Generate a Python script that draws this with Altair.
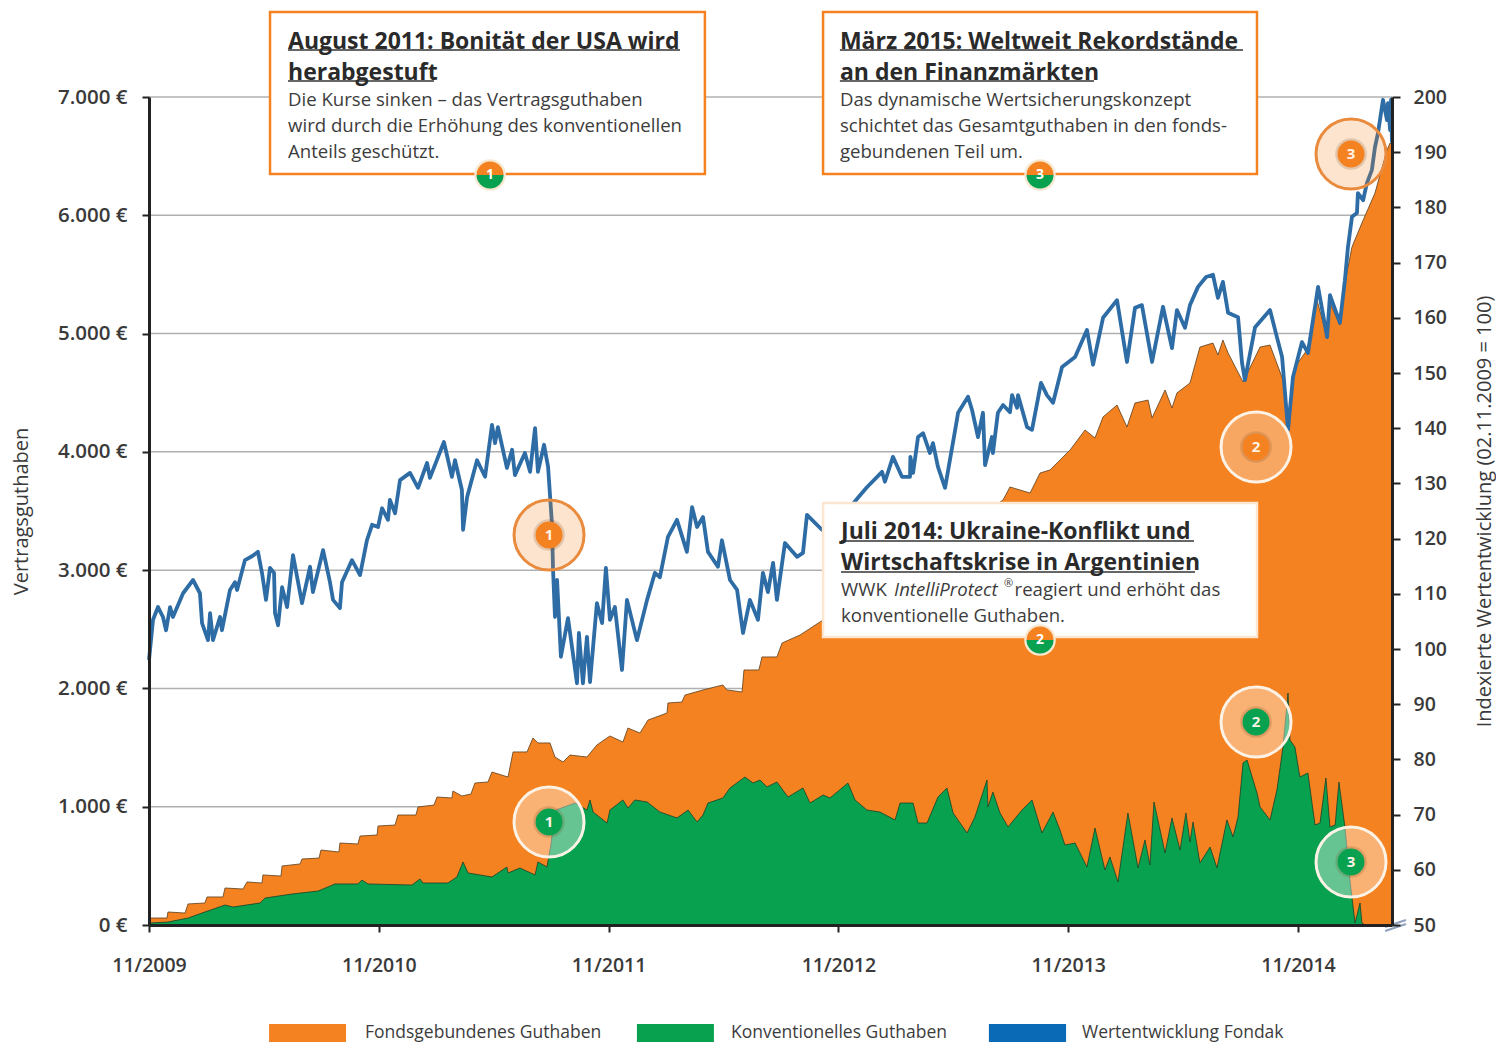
import altair as alt
import pandas as pd

FONT = "Open Sans"
ORANGE = "#f58220"
GREEN = "#07a14f"
BLUE = "#2e6ca5"
TXT = "#3a3a3a"

# Months since 11/2009 and fund index (right axis)
fund_m = [0.00,0.21,0.47,0.73,0.89,1.10,1.25,1.78,2.30,2.66,2.77,3.08,3.19,3.34,3.71,3.81,4.23,4.49,4.60,5.01,5.38,5.69,5.90,6.11,6.32,6.53,6.58,6.74,6.95,7.21,7.52,7.99,8.41,8.56,9.09,9.45,9.61,9.97,10.08,10.60,11.02,11.38,11.65,11.96,12.17,12.48,12.58,12.85,13.11,13.63,14.05,14.52,14.67,15.40,15.82,15.98,16.34,16.40,16.61,17.13,17.55,17.91,18.07,18.22,18.69,18.96,19.11,19.63,19.90,20.16,20.31,20.63,20.84,21.04,21.10,21.20,21.31,21.51,21.88,22.35,22.45,22.66,22.87,23.03,23.39,23.66,23.86,24.07,24.33,24.70,24.96,25.48,26.01,26.42,26.68,27.10,27.57,28.09,28.36,28.62,28.93,29.19,29.71,29.92,30.34,30.71,31.02,31.38,31.80,32.06,32.32,32.59,32.79,33.21,33.84,34.15,34.36,35.14,36.08,37.02,37.49,38.28,38.43,38.85,39.32,39.74,39.76,39.90,40.16,40.42,40.78,40.94,41.20,41.57,42.19,42.25,42.77,42.98,43.29,43.55,43.66,44.02,44.07,44.33,44.60,44.96,45.07,45.33,45.38,45.85,46.11,46.58,46.89,47.21,47.68,48.36,48.98,49.30,49.82,50.55,51.07,51.49,51.85,52.38,52.95,53.42,53.68,54.10,54.36,54.78,55.20,55.56,55.82,56.08,56.35,56.87,57.08,57.23,57.76,58.54,58.90,59.17,59.48,59.74,60.21,60.52,61.05,61.52,61.67,62.19,62.45,62.61,62.82,63.08,63.13,63.40,63.60,63.86,64.02,64.18,64.44,64.65,64.70,64.81,64.86,64.91]
fund_v = [98.0,105.3,107.6,105.8,103.4,107.6,105.8,110.1,112.5,110.1,104.7,101.6,106.5,101.6,105.8,103.4,110.7,112.1,110.7,116.1,116.8,117.6,113.8,108.9,114.7,113.8,106.5,104.3,111.2,107.6,117.0,108.3,114.9,110.3,117.9,112.1,108.9,107.4,112.1,116.1,113.4,119.7,122.5,122.1,125.5,123.4,127.0,124.6,130.6,131.9,129.2,133.7,131.0,137.5,131.2,134.2,128.8,121.6,127.5,134.2,131.2,140.6,137.3,140.2,132.8,136.1,131.5,135.5,132.1,140.0,132.1,137.0,133.0,122.8,114.3,105.8,112.5,98.6,105.6,93.8,102.9,93.8,102.2,94.0,108.3,104.7,114.7,105.3,107.6,96.2,108.9,101.6,108.9,113.8,113.0,120.3,123.4,117.6,125.7,122.1,123.9,117.6,114.9,119.7,112.5,110.7,102.9,108.9,105.3,113.8,110.3,115.6,108.9,119.2,116.7,117.4,124.3,121.6,123.4,127.4,129.3,132.1,130.3,134.8,131.2,131.2,134.8,131.9,138.4,139.1,135.5,137.3,133.0,129.2,141.5,142.8,145.7,143.3,138.4,142.8,133.3,138.4,135.5,142.8,144.2,142.9,146.0,143.7,146.0,140.2,139.7,148.2,146.0,144.6,151.1,152.9,157.8,151.5,160.0,163.2,152.0,161.8,162.3,152.0,162.0,154.5,161.4,158.2,162.3,165.6,167.4,167.8,163.6,166.5,160.9,160.1,151.8,148.7,158.3,161.4,156.5,152.9,139.7,149.3,155.6,153.6,165.6,156.5,164.1,159.1,166.8,172.8,178.3,179.0,182.6,181.3,184.4,186.8,190.9,193.5,199.5,195.8,198.9,194.0,199.5,191.7]

# Fund-linked balance (top of orange area, left axis, EUR)
total_m = [0.05,0.94,0.99,1.88,2.04,2.92,3.03,3.86,3.97,4.91,5.12,5.90,5.95,6.89,6.95,7.89,7.99,8.88,8.98,9.92,9.97,10.91,11.02,11.91,11.96,12.85,13.00,13.94,14.05,14.88,15.04,15.82,15.87,16.34,16.81,17.02,17.70,17.91,18.75,19.01,19.74,20.05,20.31,20.94,21.20,21.62,21.98,22.87,23.39,24.07,24.75,25.01,25.64,26.06,27.05,27.10,27.83,27.99,28.93,29.97,30.18,30.97,31.07,31.85,32.01,32.79,33.06,34.00,35.04,39.74,44.60,44.96,46.01,46.53,47.05,48.10,48.88,49.40,49.82,50.55,51.07,51.49,52.17,52.38,53.06,53.42,53.68,54.36,54.88,55.56,55.82,56.08,56.35,57.13,58.02,58.54,59.22,59.48,59.84,60.47,60.99,61.52,61.67,62.19,62.45,62.82,63.34,64.02,64.65,64.81,64.91]
total_v = [59,59,110,101,178,186,237,237,313,304,364,355,423,414,499,516,558,566,634,617,693,685,752,761,837,845,930,930,998,1014,1082,1074,1133,1091,1107,1200,1209,1293,1251,1463,1463,1581,1539,1539,1420,1378,1437,1420,1522,1598,1547,1665,1623,1733,1792,1877,1885,1944,1987,2029,1987,1970,2156,2156,2266,2266,2384,2452,2562,3043,3593,3703,3652,3821,3847,4016,4185,4117,4295,4396,4210,4413,4438,4286,4523,4371,4498,4582,4886,4920,4819,4946,4836,4591,4886,4903,4607,4185,4717,4861,5284,4971,5258,5072,5427,5732,5935,6188,6552,6611,6594]

# Conventional balance (top of green area, left axis, EUR)
conv_m = [0.05,0.99,2.04,2.92,3.97,4.39,5.80,6.06,7.47,8.83,9.71,10.91,11.12,11.44,13.73,14.15,14.31,15.61,16.08,16.40,16.66,17.91,18.69,18.75,19.37,20.16,20.31,20.78,20.99,21.10,21.25,22.25,22.87,23.03,23.19,23.92,24.07,24.75,25.01,25.38,26.01,26.68,27.57,28.15,28.62,28.93,29.19,29.97,30.34,31.12,31.54,31.91,32.27,32.79,33.37,34.15,34.52,35.20,35.56,36.50,36.87,37.49,38.17,38.96,39.22,39.90,40.16,40.63,41.20,41.67,41.99,42.72,43.13,43.76,43.81,44.07,44.44,44.86,45.59,46.11,46.63,47.21,47.57,47.83,48.36,48.98,49.40,49.92,50.18,50.60,51.12,51.65,52.01,52.27,52.48,53.06,53.42,53.84,54.15,54.36,54.52,54.88,55.41,55.77,56.29,56.61,56.87,57.13,57.34,57.86,58.02,58.54,58.90,59.22,59.48,59.58,59.84,60.10,60.52,60.89,61.15,61.46,61.67,61.94,62.14,62.45,62.71,62.98,63.24,63.34,63.50,64.91]
conv_v = [17,25,59,110,169,152,186,228,262,287,347,347,380,347,338,389,355,355,406,533,440,406,490,440,482,423,533,490,676,845,972,1031,972,1057,955,862,972,1057,989,1057,1040,955,905,972,871,930,1031,1074,1158,1251,1200,1226,1167,1209,1082,1158,1031,1099,1074,1200,1057,972,955,888,1031,1031,862,862,1082,1158,947,778,913,1226,998,1124,947,829,972,1057,778,955,803,676,693,490,820,465,575,364,947,482,719,507,1040,609,905,634,947,702,871,524,659,482,888,744,913,1370,1395,1116,998,888,1141,1505,1961,1564,1505,1251,1285,845,862,1243,829,845,1209,829,380,17,186,17,0,0]

grid_vals = [1000, 2000, 3000, 4000, 5000, 6000, 7000]

# Event rings: month, EUR, number
ring_m = [20.89, 57.81, 62.77]
ring_top = [3297, 4041, 6518]
ring_bot = [871, 1716, 533]
ring_no = ["1", "2", "3"]

# Callout boxes (month / EUR extents)
box_x = [6.32, 35.20, 35.20]
box_x2 = [29.03, 57.86, 57.86]
box_y = [7718, 7718, 3568]
box_y2 = [6349, 6349, 2435]

title_txt = ["August 2011: Bonität der USA wird", "herabgestuft", "März 2015: Weltweit Rekordstände", "an den Finanzmärkten", "Juli 2014: Ukraine-Konflikt und", "Wirtschaftskrise in Argentinien"]
title_m = [7.26, 7.26, 36.08, 36.08, 36.14, 36.14]
title_e = [7468, 7206, 7468, 7206, 3325, 3063]
ul_m2 = [27.73, 14.88, 57.13, 49.35, 54.57, 54.62]
ul_e = [7397, 7135, 7397, 7135, 3246, 2984]

body_txt = ["Die Kurse sinken – das Vertragsguthaben", "wird durch die Erhöhung des konventionellen", "Anteils geschützt.", "Das dynamische Wertsicherungskonzept", "schichtet das Gesamtguthaben in den fonds-", "gebundenen Teil um.", "WWK", "reagiert und erhöht das", "konventionelle Guthaben."]
body_m = [7.26, 7.26, 7.26, 36.08, 36.08, 36.08, 36.14, 45.20, 36.14]
body_e = [6975, 6755, 6535, 6975, 6755, 6535, 2833, 2833, 2613]
ital_txt = ["IntelliProtect"]
ital_m = [38.91]
ital_e = [2833]
reg_txt = ["®"]
reg_m = [44.65]
reg_e = [2885]

# Split badges on the boxes
badge_m = [17.81, 46.53, 46.53]
badge_e = [6341, 6341, 2409]
badge_no = ["1", "3", "2"]

# Legend
leg_txt = ["Fondsgebundenes Guthaben", "Konventionelles Guthaben", "Wertentwicklung Fondak"]
leg_col = [ORANGE, GREEN, "#0a6ab5"]
leg_x = [6.27, 25.48, 43.86]
leg_x2 = [10.29, 29.50, 47.89]
leg_tm = [11.28, 30.39, 48.72]
leg_y = [-837, -837, -837]
leg_y2 = [-989, -989, -989]
leg_ty = [-913, -913, -913]

# Axis-break mark on right axis
brk_m = [64.55, 64.55]
brk_m2 = [65.64, 65.64]
brk_e = [-51, -17]
brk_e2 = [8, 42]

xs = alt.Scale(domain=[0, 64.91], nice=False, zero=False)
ys = alt.Scale(domain=[0, 7000], nice=False)
rs = alt.Scale(domain=[50, 200], nice=False, zero=False)

x_axis = alt.Axis(values=[0, 12, 24, 36, 48, 60], labelExpr="'11/' + (2009 + datum.value / 12)",
                  title=None, grid=False, labelFlush=False, labelFont=FONT, labelFontSize=19.5, labelColor=TXT, labelPadding=24,
                  labelFontWeight=600, tickColor="#222", tickSize=7, tickWidth=2, domainColor="#222", domainWidth=3, zindex=1)
y_axis = alt.Axis(values=[0, 1000, 2000, 3000, 4000, 5000, 6000, 7000],
                  labelExpr="replace(format(datum.value, ',d'), ',', '.') + ' €'",
                  title="Vertragsguthaben", titleFont=FONT, titleFontSize=20, titleFontWeight=400, titleColor=TXT, titlePadding=26,
                  grid=False, labelFont=FONT, labelFontSize=20.5, labelColor=TXT, labelPadding=15, labelFlush=False,
                  labelFontWeight=600, tickColor="#222", tickSize=7, tickWidth=2, domainColor="#222", domainWidth=3, zindex=1)
r_axis = alt.Axis(orient="right", values=list(range(50, 201, 10)),
                  title="Indexierte Wertentwicklung (02.11.2009 = 100)", titleAngle=270, titleFont=FONT, titleFontSize=20, titleFontWeight=400, titleColor=TXT, titlePadding=48,
                  grid=False, labelFont=FONT, labelFontSize=19.5, labelColor=TXT, labelPadding=13, labelFlush=False,
                  labelFontWeight=600, tickColor="#222", tickSize=8, tickWidth=2, domainColor="#222", domainWidth=3, zindex=1)

X = alt.X("m:Q", scale=xs, axis=x_axis)
Y = alt.Y("e:Q", scale=ys, axis=None)

total_df = pd.DataFrame({"m": total_m, "e": total_v})
conv_df = pd.DataFrame({"m": conv_m, "e": conv_v})
fund_df = pd.DataFrame({"m": fund_m, "v": fund_v})

gridlines = alt.Chart(pd.DataFrame({"e": grid_vals})).mark_rule(color="#b0b0b0", strokeWidth=1.5).encode(y=Y)
orange = alt.Chart(total_df).mark_area(color=ORANGE, opacity=1, line={"color": "#5a3d1c", "strokeWidth": 0.8}).encode(
    x=X, y=alt.Y("e:Q", scale=ys, axis=y_axis))
green = alt.Chart(conv_df).mark_area(color=GREEN, opacity=1, line={"color": "#17412b", "strokeWidth": 0.8}).encode(x=X, y=Y)
line = alt.Chart(fund_df).mark_line(color=BLUE, strokeWidth=3.8, strokeJoin="round").encode(
    x=X, y=alt.Y("v:Q", scale=rs, axis=r_axis))

box_df = pd.DataFrame({"m": box_x, "m2": box_x2, "e": box_y, "e2": box_y2, "s": [ORANGE, ORANGE, "#fde6cf"]})
boxes = alt.Chart(box_df).mark_rect(fill="white", strokeWidth=2.5).encode(
    x=X, x2="m2:Q", y=Y, y2="e2:Q", stroke=alt.Stroke("s:N", scale=None))

title_df = pd.DataFrame({"m": title_m, "e": title_e, "t": title_txt, "m2": ul_m2, "u": ul_e})
base_t = dict(align="left", baseline="middle", font=FONT)
titles = alt.Chart(title_df).mark_text(fontSize=23, fontWeight="bold", color="#2a2a2a", **base_t).encode(x=X, y=Y, text="t:N")
unders = alt.Chart(title_df).mark_rule(color="#333", strokeWidth=1.5).encode(
    x=X, x2="m2:Q", y=alt.Y("u:Q", scale=ys, axis=None))
body = alt.Chart(pd.DataFrame({"m": body_m, "e": body_e, "t": body_txt})).mark_text(
    fontSize=18.6, color="#3c3c3c", **base_t).encode(x=X, y=Y, text="t:N")
ital = alt.Chart(pd.DataFrame({"m": ital_m, "e": ital_e, "t": ital_txt})).mark_text(
    fontSize=18.6, fontStyle="italic", color="#3c3c3c", **base_t).encode(x=X, y=Y, text="t:N")
reg = alt.Chart(pd.DataFrame({"m": reg_m, "e": reg_e, "t": reg_txt})).mark_text(
    fontSize=11, color="#3c3c3c", **base_t).encode(x=X, y=Y, text="t:N")

ring_base = pd.DataFrame({"m": ring_m + ring_m, "e": ring_top + ring_bot, "n": ring_no + ring_no,
                          "inner": [ORANGE] * 3 + [GREEN] * 3,
                          "edge": ["#e98a3c", "#fdf2e6", "#e98a3c", "#fdf2e6", "#fdf2e6", "#fdf2e6"],
                          "fill": [ORANGE, "white", ORANGE, "white", "white", "white"],
                          "op": [0.22, 0.3, 0.22, 0.38, 0.38, 0.38]})
rings = alt.Chart(ring_base).mark_circle(size=4900, strokeWidth=3, opacity=1).encode(
    x=X, y=Y, fill=alt.Fill("fill:N", scale=None), fillOpacity=alt.FillOpacity("op:Q", scale=None),
    stroke=alt.Stroke("edge:N", scale=None))
halo = alt.Chart(ring_base).mark_circle(size=1000, color="#7a4a20", opacity=0.2).encode(x=X, y=Y)
inner = alt.Chart(ring_base).mark_circle(size=730, opacity=1).encode(
    x=X, y=Y, color=alt.Color("inner:N", scale=None))
ring_n = alt.Chart(ring_base).mark_text(font=FONT, fontSize=15, fontWeight="bold", color="#fff3e6").encode(x=X, y=Y, text="n:N")

badge_df = pd.DataFrame({"m": badge_m, "e": badge_e, "n": badge_no})
badge_bg = alt.Chart(badge_df).mark_circle(size=1000, color="#f7e8d2", opacity=1).encode(x=X, y=Y)
badge_top = alt.Chart(badge_df).mark_arc(radius=13.5, theta=4.7124, theta2=7.854, color=ORANGE).encode(x=X, y=Y)
badge_bot = alt.Chart(badge_df).mark_arc(radius=13.5, theta=1.5708, theta2=4.7124, color=GREEN).encode(x=X, y=Y)
badge_n = alt.Chart(badge_df).mark_text(font=FONT, fontSize=14, fontWeight="bold", color="white").encode(x=X, y=Y, text="n:N")

leg_df = pd.DataFrame({"m": leg_x, "m2": leg_x2, "e": leg_y, "e2": leg_y2, "c": leg_col})
leg_r = alt.Chart(leg_df).mark_rect().encode(x=X, x2="m2:Q", y=Y, y2="e2:Q", color=alt.Color("c:N", scale=None))
leg_t = alt.Chart(pd.DataFrame({"m": leg_tm, "e": leg_ty, "t": leg_txt})).mark_text(
    fontSize=17.5, color="#3c3c3c", **base_t).encode(x=X, y=Y, text="t:N")

brk = alt.Chart(pd.DataFrame({"m": brk_m, "m2": brk_m2, "e": brk_e, "e2": brk_e2})).mark_rule(
    color="#8f9fbf", strokeWidth=2).encode(x=X, x2="m2:Q", y=Y, y2="e2:Q")

chart = alt.layer(gridlines, orange, green, line, brk, boxes, unders, titles, body, ital, reg,
                  rings, halo, inner, ring_n, badge_bg, badge_top, badge_bot, badge_n, leg_r, leg_t
                  ).resolve_scale(y="independent").properties(
    width=1243, height=828,
    autosize=alt.AutoSizeParams(type="none"),
    padding={"left": 141, "top": 89, "right": 104, "bottom": 120},
).configure_view(stroke=None)

chart.save("out.html", embed_options={"renderer": "svg", "actions": False})
